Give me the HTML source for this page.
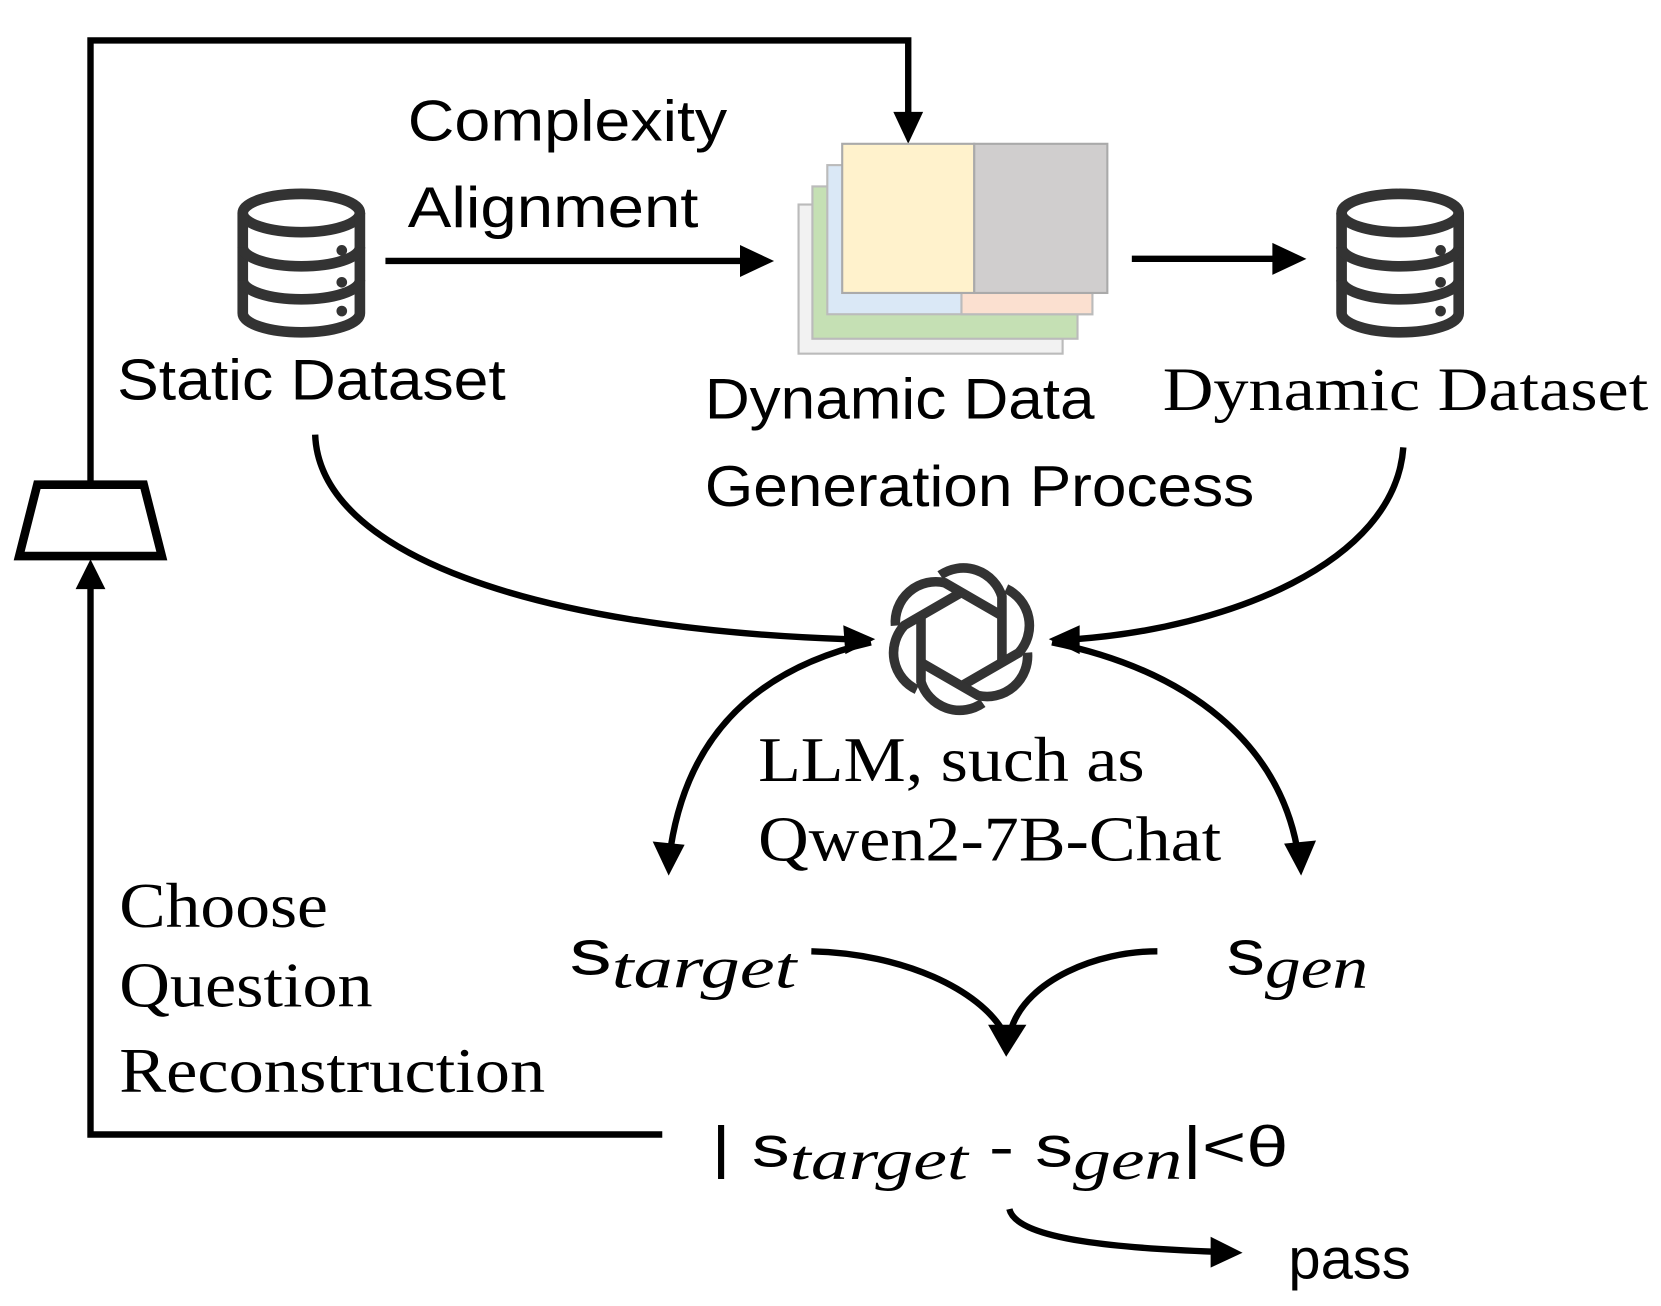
<!DOCTYPE html>
<html><head><meta charset="utf-8"><style>
html,body{margin:0;padding:0;background:#fff;}
svg{display:block}
.s{font-family:"Liberation Sans",sans-serif;}
.r{font-family:"Liberation Serif",serif;}
</style></head><body>
<svg width="1661" height="1306" viewBox="0 0 1560 1226" preserveAspectRatio="none" xmlns="http://www.w3.org/2000/svg">
<defs>
<g id="db">
<ellipse cx="0" cy="-47" rx="55" ry="18" fill="none" stroke="#333" stroke-width="10"/>
<path d="M-55,-47 V47 A55,18 0 0 0 55,47 V-47" fill="none" stroke="#333" stroke-width="10"/>
<path d="M-55,-15 A55,18 0 0 0 55,-15 M-55,16 A55,18 0 0 0 55,16" fill="none" stroke="#333" stroke-width="10"/>
<circle cx="38" cy="-12" r="5" fill="#333"/><circle cx="38" cy="18" r="5" fill="#333"/><circle cx="38" cy="45" r="5" fill="#333"/>
</g>
</defs>
<g fill="none" stroke="#000" stroke-width="6">
<polyline points="85,455 85,38 853,38 853,110"/>
<polyline points="622,1065 85,1065 85,548"/>
<line x1="362" y1="245" x2="700" y2="245"/>
<line x1="1063" y1="243" x2="1200" y2="243"/>
<path d="M296,408 C300,520 500,590 795,600"/>
<path d="M1318,420 C1310,530 1150,590 1010,600"/>
<path d="M818,603 C700,630 645,700 630,795"/>
<path d="M988,603 C1120,630 1200,700 1218,795"/>
<path d="M762,893 C850,895 920,930 942,968"/>
<path d="M1087,893 C1030,893 965,920 950,965"/>
<path d="M948,1135 C955,1165 1060,1172 1140,1175"/>
</g>
<g fill="#000">
<polygon points="853,135 839,105 867,105"/>
<polygon points="85,525 71,553 99,553"/>
<polygon points="727,245 695,230 695,260"/>
<polygon points="1227,243 1195,228 1195,258"/>
<polygon points="822,600 792,587 794,614"/>
<polygon points="985,600 1014,587 1014,614"/>
<polygon points="628,822 613,790 643,793"/>
<polygon points="1222,822 1206,792 1236,789"/>
<polygon points="945,992 928,962 964,962"/>
<polygon points="1167,1176 1137,1161 1137,1190"/>
</g>
<polygon points="35,455 135,455 152,522 18,522" fill="none" stroke="#000" stroke-width="8"/>
<g stroke="#bbb" stroke-width="2">
<rect x="750" y="192" width="248" height="140" fill="#f2f2f2"/>
<rect x="763" y="175" width="249" height="143" fill="#c5e0b4"/>
<rect x="777" y="155" width="249" height="140" fill="#dae8f6"/>
<rect x="903" y="265" width="123" height="30" fill="#fbe0d0"/>
<rect x="791" y="135" width="124" height="140" fill="#fff2cc" stroke="#aaa"/>
<rect x="915" y="135" width="125" height="140" fill="#d0cece" stroke="#aaa"/>
</g>
<use href="#db" x="283" y="247"/>
<use href="#db" x="1315" y="247"/>
<g transform="translate(903,600)" fill="none" stroke="#333" stroke-width="9">
<g id="p"><path d="M-20,-60 A38,38 0 0 1 38,-40 L38,20"/></g>
<use href="#p" transform="rotate(60)"/><use href="#p" transform="rotate(120)"/>
<use href="#p" transform="rotate(180)"/><use href="#p" transform="rotate(240)"/><use href="#p" transform="rotate(300)"/>
</g>
<g class="s" font-size="54" fill="#000" lengthAdjust="spacingAndGlyphs">
<text x="383" y="132" textLength="300" lengthAdjust="spacingAndGlyphs">Complexity</text>
<text x="383" y="213" textLength="273" lengthAdjust="spacingAndGlyphs">Alignment</text>
<text x="110" y="375" textLength="365" lengthAdjust="spacingAndGlyphs">Static Dataset</text>
<text x="662" y="393" textLength="366" lengthAdjust="spacingAndGlyphs">Dynamic Data</text>
<text x="662" y="475" textLength="516" lengthAdjust="spacingAndGlyphs">Generation Process</text>
<text x="1210" y="1200" textLength="115" lengthAdjust="spacingAndGlyphs">pass</text>
</g>
<g class="r" font-size="60" fill="#000">
<text x="1092" y="385" font-size="58" textLength="456" lengthAdjust="spacingAndGlyphs">Dynamic Dataset</text>
<text x="712" y="733" textLength="363" lengthAdjust="spacingAndGlyphs">LLM, such as</text>
<text x="712" y="808" textLength="435" lengthAdjust="spacingAndGlyphs">Qwen2-7B-Chat</text>
<text x="112" y="870" textLength="196" lengthAdjust="spacingAndGlyphs">Choose</text>
<text x="112" y="945" textLength="238" lengthAdjust="spacingAndGlyphs">Question</text>
<text x="112" y="1025" textLength="400" lengthAdjust="spacingAndGlyphs">Reconstruction</text>
</g>
<g fill="#000" font-size="60">
<text x="535" y="915" class="s" textLength="213" lengthAdjust="spacingAndGlyphs">s<tspan class="r" font-style="italic" font-size="56" dy="12">target</tspan></text>
<text x="1152" y="915" class="s" textLength="133" lengthAdjust="spacingAndGlyphs">s<tspan class="r" font-style="italic" font-size="56" dy="12">gen</tspan></text>
<text x="668" y="1095" class="s" font-size="54" textLength="542" lengthAdjust="spacingAndGlyphs">| s<tspan class="r" font-style="italic" font-size="54" dy="12">target</tspan><tspan dy="-12"> - s</tspan><tspan class="r" font-style="italic" font-size="54" dy="12">gen</tspan><tspan dy="-12">|&lt;θ</tspan></text>
</g>
</svg>
</body></html>
